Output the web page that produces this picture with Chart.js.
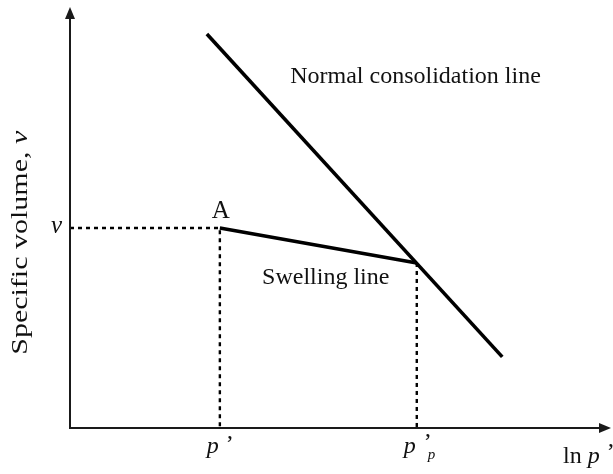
<!DOCTYPE html>
<html>
<head>
<meta charset="utf-8">
<script src="https://cdn.jsdelivr.net/npm/chart.js@4.4.1/dist/chart.umd.min.js"></script>
<style>
  html, body { margin: 0; padding: 0; background: #ffffff; }
  #wrap { width: 613px; height: 474px; position: relative; }
</style>
</head>
<body>
<div id="wrap"><canvas id="c" width="613" height="474"></canvas></div>
<script>
// ---- data (axis units: ln p' horizontally, specific volume v vertically) ----
const nclLnP = [2.53, 7.99];          // normal consolidation line end points (ln p')
const nclV = [9.36, 1.69];            // normal consolidation line end points (v)
const swellLnP = [2.77, 6.41];        // swelling line: point A -> meets NCL at p'_p
const swellV = [4.75, 3.92];
const pointA = { lnP: 2.77, v: 4.75 };  // state A (p', v)
const pointP = { lnP: 6.41, v: 3.92 };  // preconsolidation state (p'_p)
const axisMax = { lnP: 10, v: 10 };
const xTickLabels = ["p", "p"];         // p' and p'_p
const yTickLabels = ["v"];
const curveLabels = ["Normal consolidation line", "Swelling line"];
const curveLabelPos = [[4.07, 8.19], [3.55, 3.42]];
const yAxisTitle = "Specific volume, ";
const xAxisTitle = "ln ";

const serif = '"Liberation Serif", "Times New Roman", serif';

const toPts = (xs, ys) => xs.map((x, i) => ({ x: x, y: ys[i] }));

const datasets = [
  { label: 'ncl', data: toPts(nclLnP, nclV), borderColor: '#000', borderWidth: 3.6 },
  { label: 'swelling', data: toPts(swellLnP, swellV), borderColor: '#000', borderWidth: 3.6 },
  { label: 'guideA', data: [{ x: 0, y: pointA.v }, { x: pointA.lnP, y: pointA.v }, { x: pointA.lnP, y: 0 }],
    borderColor: '#000', borderWidth: 2.4, borderDash: [4, 4] },
  { label: 'guideP', data: [{ x: pointP.lnP, y: pointP.v }, { x: pointP.lnP, y: 0 }],
    borderColor: '#000', borderWidth: 2.4, borderDash: [4, 4] }
].map(d => Object.assign({ showLine: true, pointRadius: 0, fill: false, tension: 0 }, d));

const decor = {
  id: 'decor',
  afterDatasetsDraw(chart) {
    const ctx = chart.ctx;
    const xs = chart.scales.x, ys = chart.scales.y;
    const x0 = xs.getPixelForValue(0), y0 = ys.getPixelForValue(0);
    const xEnd = xs.getPixelForValue(axisMax.lnP), yEnd = ys.getPixelForValue(axisMax.v);
    ctx.save();
    // axes
    ctx.strokeStyle = '#1a1a1a'; ctx.fillStyle = '#1a1a1a'; ctx.lineWidth = 2;
    ctx.beginPath();
    ctx.moveTo(x0, y0 + 1); ctx.lineTo(x0, yEnd + 8);
    ctx.moveTo(x0 - 1, y0); ctx.lineTo(xEnd - 8, y0);
    ctx.stroke();
    ctx.beginPath();
    ctx.moveTo(x0, yEnd); ctx.lineTo(x0 - 5, yEnd + 12); ctx.lineTo(x0 + 5, yEnd + 12); ctx.closePath();
    ctx.fill();
    ctx.beginPath();
    ctx.moveTo(xEnd, y0); ctx.lineTo(xEnd - 12, y0 - 5); ctx.lineTo(xEnd - 12, y0 + 5); ctx.closePath();
    ctx.fill();

    ctx.fillStyle = '#111';
    ctx.textBaseline = 'alphabetic';
    const reg = '24px ' + serif, ital = 'italic 24px ' + serif, sub = 'italic 15px ' + serif;

    // curve labels
    ctx.font = reg; ctx.textAlign = 'left';
    curveLabels.forEach((t, i) => {
      ctx.fillText(t, xs.getPixelForValue(curveLabelPos[i][0]), ys.getPixelForValue(curveLabelPos[i][1]));
    });
    // point A
    ctx.textAlign = 'center'; ctx.font = '25px ' + serif;
    ctx.fillText('A', xs.getPixelForValue(pointA.lnP) + 1, ys.getPixelForValue(pointA.v) - 10);

    // y tick label v
    ctx.textAlign = 'right'; ctx.font = 'italic 25px ' + serif;
    ctx.fillText(yTickLabels[0], x0 - 8, ys.getPixelForValue(pointA.v) + 5);

    // x tick labels
    ctx.textAlign = 'left';
    const pa = xs.getPixelForValue(pointA.lnP);
    ctx.font = ital; ctx.fillText(xTickLabels[0], pa - 13, y0 + 25);
    ctx.font = reg; ctx.fillText('\u2019', pa + 6, y0 + 23);
    const pp = xs.getPixelForValue(pointP.lnP);
    ctx.font = ital; ctx.fillText(xTickLabels[1], pp - 13, y0 + 25);
    ctx.font = reg; ctx.fillText('\u2019', pp + 7, y0 + 21);
    ctx.font = sub; ctx.fillText('p', pp + 11, y0 + 31);

    // x axis title: ln p'
    ctx.font = reg; ctx.textAlign = 'left';
    ctx.fillText(xAxisTitle, x0 + 493, y0 + 35);
    const w = ctx.measureText(xAxisTitle).width;
    ctx.font = ital; ctx.fillText('p', x0 + 493 + w, y0 + 35);
    ctx.font = reg; ctx.fillText('\u2019', x0 + 493 + w + 19, y0 + 31);

    // y axis title (rotated)
    ctx.save();
    ctx.translate(27, ys.getPixelForValue(4.4));
    ctx.rotate(-Math.PI / 2);
    ctx.scale(1.25, 1);
    ctx.font = reg;
    const w1 = ctx.measureText(yAxisTitle).width;
    ctx.font = ital;
    const w2 = ctx.measureText('v').width;
    const start = -(w1 + w2) / 2;
    ctx.font = reg; ctx.textAlign = 'left';
    ctx.fillText(yAxisTitle, start, 0);
    ctx.font = ital; ctx.fillText('v', start + w1, 0);
    ctx.restore();

    ctx.restore();
  }
};

new Chart(document.getElementById('c'), {
  type: 'scatter',
  data: { datasets: datasets },
  options: {
    responsive: false,
    animation: false,
    layout: { padding: { left: 70, right: 2, top: 7, bottom: 46 } },
    plugins: { legend: { display: false }, tooltip: { enabled: false }, title: { display: false } },
    scales: {
      x: { type: 'linear', min: 0, max: axisMax.lnP, display: false },
      y: { type: 'linear', min: 0, max: axisMax.v, display: false }
    },
    elements: { line: { borderCapStyle: 'butt' } }
  },
  plugins: [decor]
});
</script>
</body>
</html>
